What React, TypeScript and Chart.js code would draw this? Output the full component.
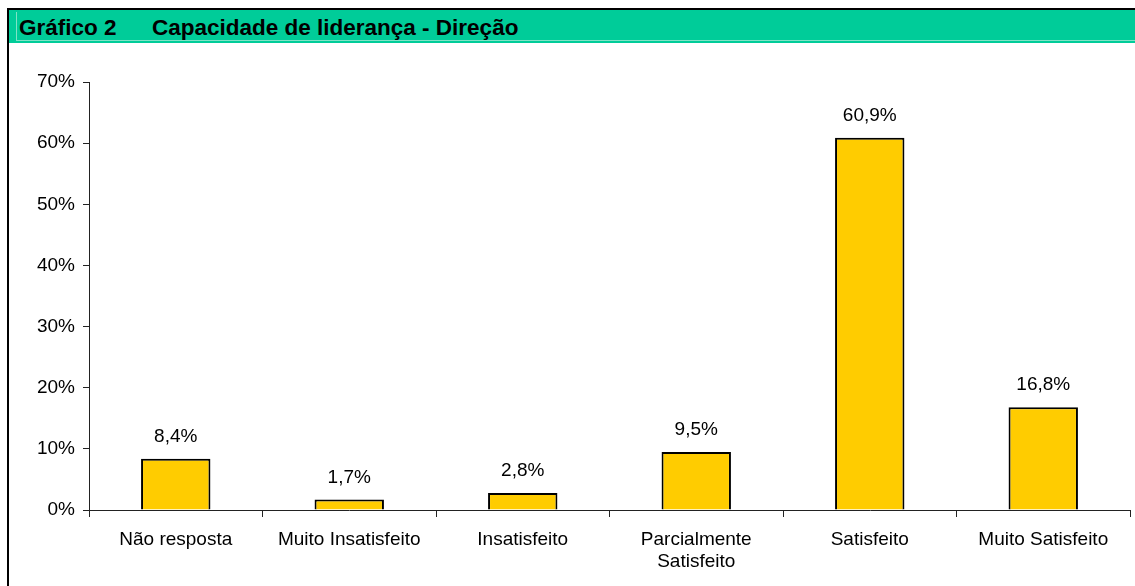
import React, { useEffect, useRef } from "react";
import { Chart, registerables } from "chart.js";

Chart.register(...registerables);

const categories: (string | string[])[] = [
  "Não resposta",
  "Muito Insatisfeito",
  "Insatisfeito",
  ["Parcialmente", "Satisfeito"],
  "Satisfeito",
  "Muito Satisfeito",
];
const values: number[] = [8.4, 1.7, 2.8, 9.5, 60.9, 16.8];
const valueLabels: string[] = ["8,4%", "1,7%", "2,8%", "9,5%", "60,9%", "16,8%"];
const yMax = 70;
const yStep = 10;

const FONT = "'Liberation Sans', Arial, Helvetica, sans-serif";

const barLabelPlugin = {
  id: "barLabels",
  afterDatasetsDraw(chart: any) {
    const ctx = chart.ctx;
    const meta = chart.getDatasetMeta(0);
    ctx.save();
    ctx.font = `19px ${FONT}`;
    ctx.fillStyle = "#000";
    ctx.textAlign = "center";
    ctx.textBaseline = "alphabetic";
    meta.data.forEach((bar: any, i: number) => {
      ctx.fillText(valueLabels[i], bar.x, bar.y - 17);
    });
    ctx.restore();
  },
};

export default function App() {
  const ref = useRef<HTMLCanvasElement | null>(null);
  useEffect(() => {
    if (!ref.current) return;
    const chart = new Chart(ref.current, {
      type: "bar",
      data: {
        labels: categories,
        datasets: [
          {
            data: values,
            backgroundColor: "#FFCC00",
            borderColor: "#000",
            borderWidth: 2,
            barPercentage: 0.4,
            categoryPercentage: 1,
          },
        ],
      },
      options: {
        responsive: false,
        animation: false,
        layout: { padding: { left: 0, top: 38, right: 5, bottom: 0 } },
        plugins: {
          legend: { display: false },
          tooltip: { enabled: false },
        },
        scales: {
          x: {
            offset: true,
            grid: {
              display: true,
              offset: true,
              drawOnChartArea: false,
              drawTicks: true,
              tickLength: 7,
              color: "#222",
            },
            border: { display: true, color: "#222", width: 1 },
            ticks: {
              color: "#000",
              font: { family: FONT, size: 19 },
              padding: 11,
              maxRotation: 0,
              autoSkip: false,
            },
            afterFit: (s: any) => {
              s.height = 76;
            },
          },
          y: {
            min: 0,
            max: yMax,
            grid: {
              display: true,
              drawOnChartArea: false,
              drawTicks: true,
              tickLength: 6,
              color: "#222",
            },
            border: { display: true, color: "#222", width: 1 },
            ticks: {
              stepSize: yStep,
              color: "#000",
              font: { family: FONT, size: 19 },
              padding: 8,
              callback: (v: any) => `${v}%`,
            },
            afterFit: (s: any) => {
              s.width = 80;
            },
          },
        },
      },
      plugins: [barLabelPlugin],
    });
    return () => chart.destroy();
  }, []);

  return (
    <div
      style={{
        position: "fixed",
        left: 0,
        top: 0,
        width: 1135,
        height: 586,
        background: "#fff",
        overflow: "hidden",
        fontFamily: FONT,
      }}
    >
      <div style={{ position: "absolute", left: 7, top: 8, width: 1128, height: 2, background: "#000" }} />
      <div style={{ position: "absolute", left: 7, top: 8, width: 2, height: 578, background: "#000" }} />
      <div style={{ position: "absolute", left: 9, top: 10, width: 1126, height: 33, background: "#00CC99" }} />
      <div style={{ position: "absolute", left: 16, top: 12, width: 1119, height: 28, borderLeft: "1px solid #7FE3C6", borderBottom: "1px solid #7FE3C6" }} />
      <div style={{ position: "absolute", left: 19, top: 15, fontWeight: "bold", fontSize: 22.5, color: "#000", whiteSpace: "nowrap" }}>
        Gráfico 2
      </div>
      <div style={{ position: "absolute", left: 152, top: 15, fontWeight: "bold", fontSize: 22.5, color: "#000", whiteSpace: "nowrap" }}>
        Capacidade de liderança - Direção
      </div>
      <canvas
        ref={ref}
        width={1126}
        height={542}
        style={{ position: "absolute", left: 9, top: 44, width: 1126, height: 542 }}
      />
    </div>
  );
}
